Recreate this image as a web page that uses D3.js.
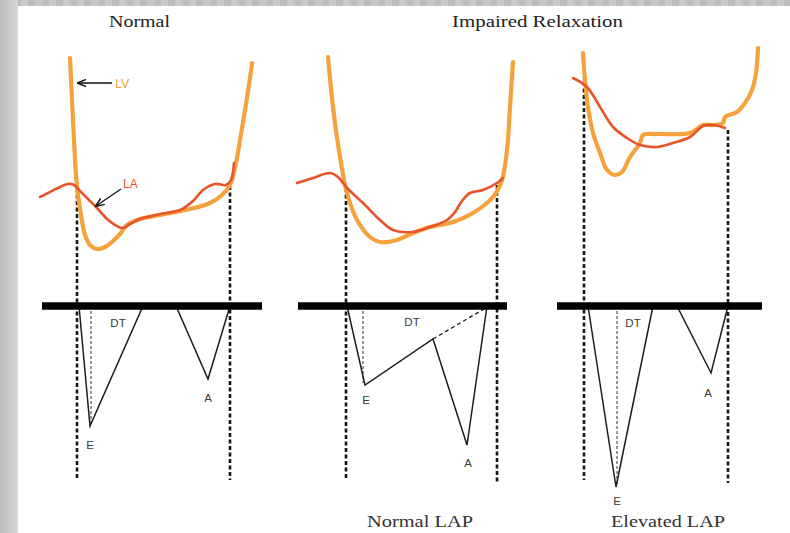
<!DOCTYPE html>
<html>
<head>
<meta charset="utf-8">
<script src="https://cdn.jsdelivr.net/npm/d3@7"></script>
<style>
  html, body { margin: 0; padding: 0; background: #fff; }
  svg { display: block; }
</style>
</head>
<body>
<svg id="chart" width="790" height="533"></svg>
<script>
// ---- Headings ----
const titles = ["Normal", "Impaired Relaxation"];
const subtitles = ["Normal LAP", "Elevated LAP"];
const waveLabels = ["DT", "E", "A"];

// ---- Pressure traces: [time ms, pressure mmHg] ----
const lvNormal = [[30,38.4],[32,30],[34,22],[36,15],[38,11],[41,7],[45,3],[50,1],[57,0.2],[65,0.6],[73,1.8],[80,3.2],[87,5],[100,6.2],[120,7],[150,8.2],[170,9.4],[182,11],[190,13],[195,16.4],[200,22],[205,28],[209,33],[212,37.4]];
const laNormal = [[0,10.6],[8,11.4],[18,12.4],[28,13.2],[34,13],[40,11.8],[48,10.2],[57,8.4],[66,6.4],[75,5],[83,4.4],[90,5.2],[100,6.2],[120,7.2],[140,8],[153,9.8],[163,12],[175,13.2],[186,13],[191,14],[194,17.4]];

const lvNormalLAP = [[32,38.6],[37,28.6],[44,18.6],[51,11.4],[61,6],[74,2.6],[84,1.6],[101,2],[117,3.4],[134,4.6],[157,5.6],[177,7.4],[197,10.6],[206,14],[211,20],[214,28.6],[217,37.6]];
const laNormalLAP = [[1,13.4],[17,14.4],[34,15.4],[42,14.6],[51,12.4],[67,9.4],[84,6],[97,4],[117,3.6],[134,4.6],[151,6],[159,7.6],[166,9.8],[174,11.4],[187,12],[201,13.4],[207,14.4]];

const lvElevatedLAP = [[28,39.4],[30,34],[33,28.6],[38,23.4],[45,19.4],[52,16],[60,15],[67,15.6],[75,18.6],[85,21.4],[88,23],[102,23.2],[135,23.4],[148,25],[158,25],[168,25.4],[170,26.6],[182,27.6],[190,29.4],[197,32],[201,35.4],[203,40.4]];
const laElevatedLAP = [[18,34.4],[32,32.6],[45,28.6],[58,24.6],[72,22.4],[85,21],[102,20.6],[118,21.4],[135,22.6],[148,24.8],[158,25],[170,24.4]];

// ---- Mitral inflow Doppler: [time ms, velocity cm/s] ----
const dopNormal = [[39,0],[50,60],[103,0],[136,0],[168,36.5],[190,0]];
const dopNormalLAP = [[51,0],[69,39.5],[137,16.5],[171,69.5],[191,0]];
const dopElevatedLAP = [[33,0],[61,90.5],[98,0],[122,0],[156,33.5],[173,0]];

// deceleration-time extrapolation (impaired relaxation, normal LAP)
const dtExtension = [[137,16.5],[193,0]];

// ---- Markers per panel ----
// valve timing lines: [time, pressure at top, velocity at bottom]
const timingNormal = [[37,12.4,87],[190,12.8,87]];
const timingNormalLAP = [[50,12.4,87],[201,13,88.5]];
const timingElevatedLAP = [[29,33.6,87],[173,24,88.5]];
// peak-E drop lines: [time, velocity]
const ePeakNormal = [51, 58];
const ePeakNormalLAP = [67, 38.5];
const ePeakElevatedLAP = [62, 89];
// baseline extent [start, end] in time
const baselineNormal = [2, 222];
const baselineNormalLAP = [2, 211];
const baselineElevatedLAP = [2, 207];
// label anchors [time, velocity] for DT, E, A
const labelPosNormal = [[78,8.5],[50,69.5],[168,46]];
const labelPosNormalLAP = [[116,8],[70,47],[172,78.5]];
const labelPosElevatedLAP = [[78,8.5],[62,97.5],[153,43.5]];

const panels = [
  { lv: lvNormal, la: laNormal, dop: dopNormal, timing: timingNormal, ePeak: ePeakNormal, base: baselineNormal, labels: labelPosNormal, left: 40 },
  { lv: lvNormalLAP, la: laNormalLAP, dop: dopNormalLAP, timing: timingNormalLAP, ePeak: ePeakNormalLAP, base: baselineNormalLAP, labels: labelPosNormalLAP, left: 296, extra: dtExtension },
  { lv: lvElevatedLAP, la: laElevatedLAP, dop: dopElevatedLAP, timing: timingElevatedLAP, ePeak: ePeakElevatedLAP, base: baselineElevatedLAP, labels: labelPosElevatedLAP, left: 555 }
];

const LV_COLOR = "#f5a23c";
const LA_COLOR = "#e8542a";

const svg = d3.select("#chart");

// slide frame
const defs = svg.append("defs");
const grad = defs.append("linearGradient").attr("id", "edge").attr("x1", 0).attr("x2", 1);
grad.append("stop").attr("offset", 0).attr("stop-color", "#bcbcbc");
grad.append("stop").attr("offset", 1).attr("stop-color", "#d9d9d9");
const stripe = defs.append("pattern").attr("id", "stripe").attr("width", 14).attr("height", 7).attr("patternUnits", "userSpaceOnUse");
stripe.append("rect").attr("width", 14).attr("height", 7).attr("fill", "#cacaca");
stripe.append("rect").attr("width", 7).attr("height", 7).attr("fill", "#bebebe");
defs.append("marker").attr("id", "arrow").attr("viewBox", "0 0 10 10").attr("refX", 9).attr("refY", 5)
  .attr("markerWidth", 7).attr("markerHeight", 7).attr("orient", "auto")
  .append("path").attr("d", "M0,1 L10,5 L0,9").attr("fill", "none").attr("stroke", "#111").attr("stroke-width", 1.6);

svg.append("rect").attr("width", 790).attr("height", 533).attr("fill", "#d2d2d2");
svg.append("rect").attr("width", 790).attr("height", 7).attr("fill", "url(#stripe)");
svg.append("rect").attr("width", 18).attr("height", 533).attr("fill", "url(#edge)");
svg.append("rect").attr("x", 18).attr("y", 6).attr("width", 772).attr("height", 527).attr("fill", "#ffffff");

// shared vertical scales
const yP = d3.scaleLinear().domain([0, 40]).range([250, 50]);
const yV = d3.scaleLinear().domain([0, 100]).range([306, 506]);

panels.forEach(p => {
  const x = d3.scaleLinear().domain([0, 230]).range([p.left, p.left + 230]);
  const g = svg.append("g");

  const curve = d3.line().x(d => x(d[0])).y(d => yP(d[1])).curve(d3.curveCatmullRom.alpha(0.5));
  const dopLine = d3.line().x(d => x(d[0])).y(d => yV(d[1]));

  // valve timing lines
  g.selectAll(".timing").data(p.timing).join("line")
    .attr("x1", d => x(d[0])).attr("x2", d => x(d[0]))
    .attr("y1", d => yP(d[1])).attr("y2", d => yV(d[2]))
    .attr("stroke", "#151515").attr("stroke-width", 2.6).attr("stroke-dasharray", "4,2.5");

  // LV and LA pressure
  g.append("path").attr("d", curve(p.lv)).attr("fill", "none")
    .attr("stroke", LV_COLOR).attr("stroke-width", 4.2).attr("stroke-linejoin", "round").attr("stroke-linecap", "round");
  g.append("path").attr("d", curve(p.la)).attr("fill", "none")
    .attr("stroke", LA_COLOR).attr("stroke-width", 2.6).attr("stroke-linejoin", "round").attr("stroke-linecap", "round");

  // peak-E drop line
  g.append("line").attr("x1", x(p.ePeak[0])).attr("x2", x(p.ePeak[0]))
    .attr("y1", yV(0)).attr("y2", yV(p.ePeak[1]))
    .attr("stroke", "#3a4150").attr("stroke-width", 1.1).attr("stroke-dasharray", "3,2");

  // Doppler envelope
  g.append("path").attr("d", dopLine(p.dop)).attr("fill", "none")
    .attr("stroke", "#1c1c1c").attr("stroke-width", 1.5).attr("stroke-linejoin", "miter");
  if (p.extra) {
    g.append("path").attr("d", dopLine(p.extra)).attr("fill", "none")
      .attr("stroke", "#1c1c1c").attr("stroke-width", 1.3).attr("stroke-dasharray", "4,3");
  }

  // zero-velocity baseline
  g.append("line").attr("x1", x(p.base[0])).attr("x2", x(p.base[1]))
    .attr("y1", yV(0)).attr("y2", yV(0))
    .attr("stroke", "#000").attr("stroke-width", 7.5);

  // wave labels
  g.selectAll(".wl").data(p.labels).join("text")
    .attr("x", d => x(d[0])).attr("y", d => yV(d[1]) + 4)
    .attr("text-anchor", "middle")
    .attr("font-family", "Liberation Sans, Arial, sans-serif").attr("font-size", 11.5)
    .attr("fill", "#3a3a3a")
    .text((d, i) => waveLabels[i]);
});

// LV / LA annotations in the first panel
const ann = svg.append("g");
ann.append("line").attr("x1", 112).attr("y1", 83).attr("x2", 78).attr("y2", 83)
  .attr("stroke", "#111").attr("stroke-width", 1.3).attr("marker-end", "url(#arrow)");
ann.append("text").attr("x", 115).attr("y", 88).text("LV")
  .attr("font-family", "Liberation Sans, Arial, sans-serif").attr("font-size", 12.5).attr("fill", LV_COLOR);
ann.append("line").attr("x1", 121).attr("y1", 189).attr("x2", 96).attr("y2", 206)
  .attr("stroke", "#111").attr("stroke-width", 1.3).attr("marker-end", "url(#arrow)");
ann.append("text").attr("x", 123).attr("y", 188).text("LA")
  .attr("font-family", "Liberation Sans, Arial, sans-serif").attr("font-size", 12).attr("fill", LA_COLOR);

// headings
const serif = "Liberation Serif, 'Times New Roman', serif";
svg.append("text").attr("x", 109).attr("y", 27).text(titles[0])
  .attr("font-family", serif).attr("font-size", 16).attr("fill", "#222")
  .attr("textLength", 61).attr("lengthAdjust", "spacingAndGlyphs");
svg.append("text").attr("x", 452).attr("y", 27).text(titles[1])
  .attr("font-family", serif).attr("font-size", 16).attr("fill", "#222")
  .attr("textLength", 171).attr("lengthAdjust", "spacingAndGlyphs");
svg.append("text").attr("x", 367).attr("y", 527).text(subtitles[0])
  .attr("font-family", serif).attr("font-size", 16.5).attr("fill", "#333")
  .attr("textLength", 106).attr("lengthAdjust", "spacingAndGlyphs");
svg.append("text").attr("x", 611).attr("y", 527).text(subtitles[1])
  .attr("font-family", serif).attr("font-size", 16.5).attr("fill", "#333")
  .attr("textLength", 114).attr("lengthAdjust", "spacingAndGlyphs");
</script>
</body>
</html>
